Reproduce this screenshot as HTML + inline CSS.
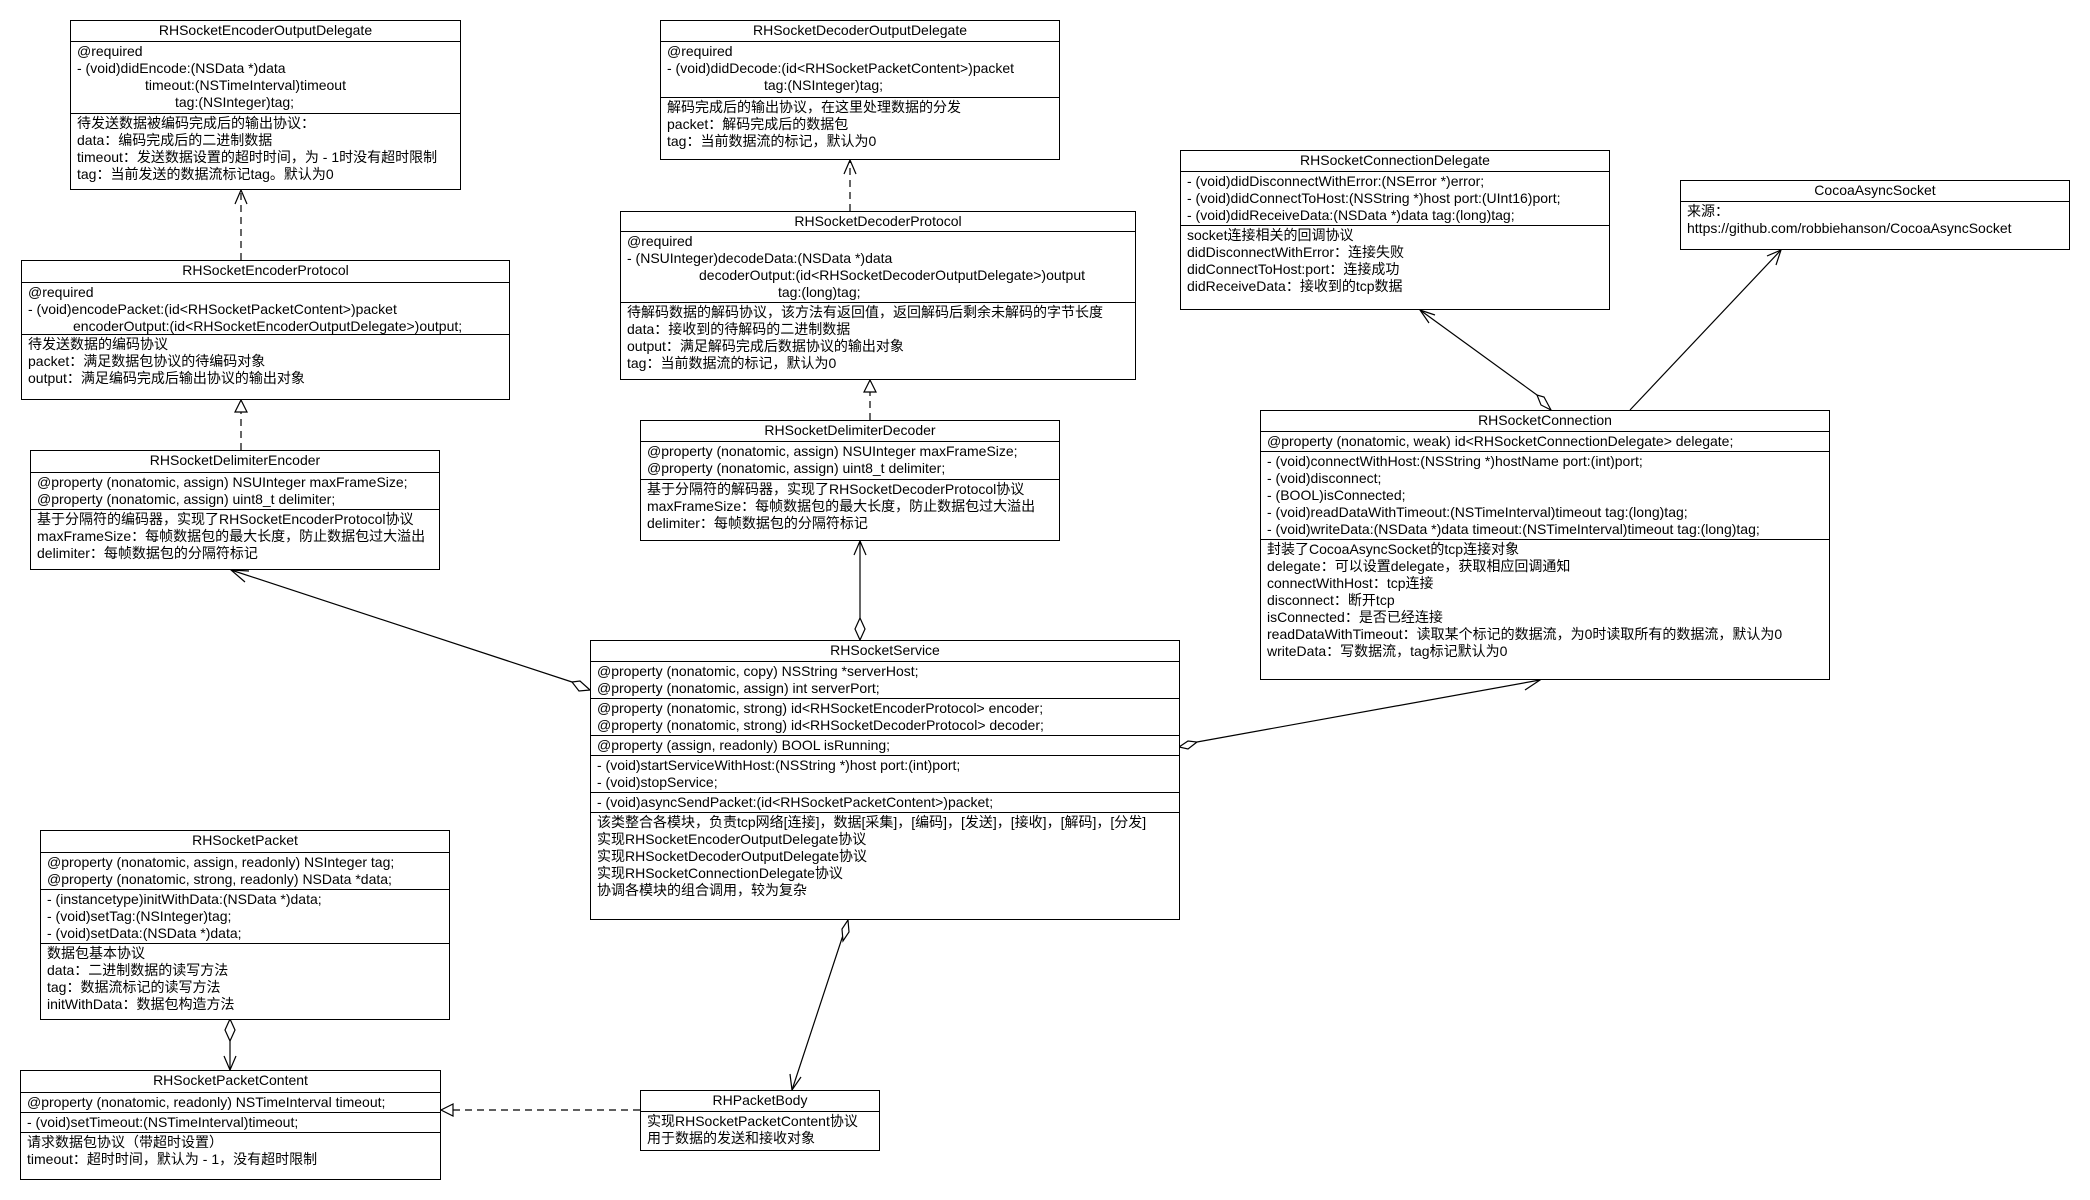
<!DOCTYPE html>
<html><head><meta charset="utf-8"><style>
body{margin:0;width:2090px;height:1200px;background:#fff;position:relative;overflow:hidden;font-family:"Liberation Sans","Noto Sans CJK SC",sans-serif;font-size:14px;color:#000}
.b{position:absolute;border:1.3px solid #000;box-sizing:border-box;background:#fff}
.t{text-align:center;line-height:19px;box-sizing:border-box}
.s{border-top:1.3px solid #000;box-sizing:border-box;padding:1px 0 0 6px;line-height:17px;white-space:pre;overflow:hidden}
.i{display:block}
svg{position:absolute;left:0;top:0}
</style></head><body>
<svg width="2090" height="1200" viewBox="0 0 2090 1200" fill="none" stroke="#000" stroke-width="1.2">
<!-- dashed dependencies -->
<line x1="241" y1="260" x2="241" y2="191" stroke-dasharray="7,5"/><polyline points="235,204 241,190 247,204"/>
<line x1="850" y1="211" x2="850" y2="161" stroke-dasharray="7,5"/><polyline points="844,174 850,160 856,174"/>
<!-- realizations -->
<line x1="241" y1="450" x2="241" y2="412" stroke-dasharray="7,5"/><polygon points="235,412 241,400 247,412" fill="#fff"/>
<line x1="870" y1="420" x2="870" y2="392" stroke-dasharray="7,5"/><polygon points="864,392 870,380 876,392" fill="#fff"/>
<line x1="640" y1="1110" x2="453" y2="1110" stroke-dasharray="7,5"/><polygon points="453,1104 441,1110 453,1116" fill="#fff"/>
<!-- aggregations -->
<line x1="572" y1="682" x2="231" y2="570"/><polyline points="245,582 231,570 249,571"/>
<polygon points="590,690 580,681 572,682 579,691" fill="#fff"/>
<line x1="860" y1="618" x2="860" y2="541"/><polyline points="854,555 860,541 866,555"/>
<polygon points="860,640 855,629 860,618 865,629" fill="#fff"/>
<line x1="1197" y1="742" x2="1540" y2="680"/><polyline points="1525,690 1540,680 1523,678"/>
<polygon points="1179,747 1188,741 1197,742 1188,749" fill="#fff"/>
<line x1="848" y1="920" x2="792" y2="1090"/><polyline points="790,1074 792,1090 801,1077"/>
<polygon points="848,920 849,932 843,941 842,929" fill="#fff"/>
<line x1="230" y1="1041" x2="230" y2="1070"/><polyline points="224,1056 230,1070 236,1056"/>
<polygon points="230,1019 235,1030 230,1041 225,1030" fill="#fff"/>
<line x1="1537" y1="395" x2="1420" y2="310"/><polyline points="1429,323 1420,310 1435,315"/>
<polygon points="1551,410 1544,397 1537,395 1541,405" fill="#fff"/>
<line x1="1630" y1="410" x2="1781" y2="250"/><polyline points="1767,256 1781,250 1776,265"/>
</svg>

<div class="b" style="left:70px;top:20px;width:391px;height:170px">
<div class="t" style="height:20px">RHSocketEncoderOutputDelegate</div>
<div class="s" style="height:72px">@required
- (void)didEncode:(NSData *)data
<span style="padding-left:68px">timeout:(NSTimeInterval)timeout</span>
<span style="padding-left:98px">tag:(NSInteger)tag;</span></div>
<div class="s" style="height:76px">待发送数据被编码完成后的输出协议：
data：编码完成后的二进制数据
timeout：发送数据设置的超时时间，为 - 1时没有超时限制
tag：当前发送的数据流标记tag。默认为0</div>
</div>

<div class="b" style="left:660px;top:20px;width:400px;height:140px">
<div class="t" style="height:20px">RHSocketDecoderOutputDelegate</div>
<div class="s" style="height:56px">@required
- (void)didDecode:(id&lt;RHSocketPacketContent&gt;)packet
<span style="padding-left:97px">tag:(NSInteger)tag;</span></div>
<div class="s" style="height:62px">解码完成后的输出协议，在这里处理数据的分发
packet：解码完成后的数据包
tag：当前数据流的标记，默认为0</div>
</div>

<div class="b" style="left:620px;top:211px;width:516px;height:169px">
<div class="t" style="height:19px">RHSocketDecoderProtocol</div>
<div class="s" style="height:71px">@required
- (NSUInteger)decodeData:(NSData *)data
<span style="padding-left:72px">decoderOutput:(id&lt;RHSocketDecoderOutputDelegate&gt;)output</span>
<span style="padding-left:151px">tag:(long)tag;</span></div>
<div class="s" style="height:77px">待解码数据的解码协议，该方法有返回值，返回解码后剩余未解码的字节长度
data：接收到的待解码的二进制数据
output：满足解码完成后数据协议的输出对象
tag：当前数据流的标记，默认为0</div>
</div>

<div class="b" style="left:21px;top:260px;width:489px;height:140px">
<div class="t" style="height:21px">RHSocketEncoderProtocol</div>
<div class="s" style="height:52px">@required
- (void)encodePacket:(id&lt;RHSocketPacketContent&gt;)packet
<span style="padding-left:45px">encoderOutput:(id&lt;RHSocketEncoderOutputDelegate&gt;)output;</span></div>
<div class="s" style="height:65px">待发送数据的编码协议
packet：满足数据包协议的待编码对象
output：满足编码完成后输出协议的输出对象</div>
</div>

<div class="b" style="left:30px;top:450px;width:410px;height:120px">
<div class="t" style="height:21px">RHSocketDelimiterEncoder</div>
<div class="s" style="height:37px">@property (nonatomic, assign) NSUInteger maxFrameSize;
@property (nonatomic, assign) uint8_t delimiter;</div>
<div class="s" style="height:60px">基于分隔符的编码器，实现了RHSocketEncoderProtocol协议
maxFrameSize：每帧数据包的最大长度，防止数据包过大溢出
delimiter：每帧数据包的分隔符标记</div>
</div>

<div class="b" style="left:640px;top:420px;width:420px;height:121px">
<div class="t" style="height:20px">RHSocketDelimiterDecoder</div>
<div class="s" style="height:38px">@property (nonatomic, assign) NSUInteger maxFrameSize;
@property (nonatomic, assign) uint8_t delimiter;</div>
<div class="s" style="height:61px">基于分隔符的解码器，实现了RHSocketDecoderProtocol协议
maxFrameSize：每帧数据包的最大长度，防止数据包过大溢出
delimiter：每帧数据包的分隔符标记</div>
</div>

<div class="b" style="left:1180px;top:150px;width:430px;height:160px">
<div class="t" style="height:20px">RHSocketConnectionDelegate</div>
<div class="s" style="height:54px">- (void)didDisconnectWithError:(NSError *)error;
- (void)didConnectToHost:(NSString *)host port:(UInt16)port;
- (void)didReceiveData:(NSData *)data tag:(long)tag;</div>
<div class="s" style="height:84px">socket连接相关的回调协议
didDisconnectWithError：连接失败
didConnectToHost:port：连接成功
didReceiveData：接收到的tcp数据</div>
</div>

<div class="b" style="left:1680px;top:180px;width:390px;height:70px">
<div class="t" style="height:20px">CocoaAsyncSocket</div>
<div class="s" style="height:48px">来源：
https://github.com/robbiehanson/CocoaAsyncSocket</div>
</div>

<div class="b" style="left:1260px;top:410px;width:570px;height:270px">
<div class="t" style="height:20px">RHSocketConnection</div>
<div class="s" style="height:20px">@property (nonatomic, weak) id&lt;RHSocketConnectionDelegate&gt; delegate;</div>
<div class="s" style="height:88px">- (void)connectWithHost:(NSString *)hostName port:(int)port;
- (void)disconnect;
- (BOOL)isConnected;
- (void)readDataWithTimeout:(NSTimeInterval)timeout tag:(long)tag;
- (void)writeData:(NSData *)data timeout:(NSTimeInterval)timeout tag:(long)tag;</div>
<div class="s" style="height:139px">封装了CocoaAsyncSocket的tcp连接对象
delegate：可以设置delegate，获取相应回调通知
connectWithHost：tcp连接
disconnect：断开tcp
isConnected：是否已经连接
readDataWithTimeout：读取某个标记的数据流，为0时读取所有的数据流，默认为0
writeData：写数据流，tag标记默认为0</div>
</div>

<div class="b" style="left:590px;top:640px;width:590px;height:280px">
<div class="t" style="height:20px">RHSocketService</div>
<div class="s" style="height:37px">@property (nonatomic, copy) NSString *serverHost;
@property (nonatomic, assign) int serverPort;</div>
<div class="s" style="height:37px">@property (nonatomic, strong) id&lt;RHSocketEncoderProtocol&gt; encoder;
@property (nonatomic, strong) id&lt;RHSocketDecoderProtocol&gt; decoder;</div>
<div class="s" style="height:20px">@property (assign, readonly) BOOL isRunning;</div>
<div class="s" style="height:37px">- (void)startServiceWithHost:(NSString *)host port:(int)port;
- (void)stopService;</div>
<div class="s" style="height:20px">- (void)asyncSendPacket:(id&lt;RHSocketPacketContent&gt;)packet;</div>
<div class="s" style="height:106px">该类整合各模块，负责tcp网络[连接]，数据[采集]，[编码]，[发送]，[接收]，[解码]，[分发]
实现RHSocketEncoderOutputDelegate协议
实现RHSocketDecoderOutputDelegate协议
实现RHSocketConnectionDelegate协议
协调各模块的组合调用，较为复杂</div>
</div>

<div class="b" style="left:40px;top:830px;width:410px;height:190px">
<div class="t" style="height:21px">RHSocketPacket</div>
<div class="s" style="height:37px">@property (nonatomic, assign, readonly) NSInteger tag;
@property (nonatomic, strong, readonly) NSData *data;</div>
<div class="s" style="height:54px">- (instancetype)initWithData:(NSData *)data;
- (void)setTag:(NSInteger)tag;
- (void)setData:(NSData *)data;</div>
<div class="s" style="height:75px">数据包基本协议
data：二进制数据的读写方法
tag：数据流标记的读写方法
initWithData：数据包构造方法</div>
</div>

<div class="b" style="left:20px;top:1070px;width:421px;height:110px">
<div class="t" style="height:21px">RHSocketPacketContent</div>
<div class="s" style="height:20px">@property (nonatomic, readonly) NSTimeInterval timeout;</div>
<div class="s" style="height:20px">- (void)setTimeout:(NSTimeInterval)timeout;</div>
<div class="s" style="height:46px">请求数据包协议（带超时设置）
timeout：超时时间，默认为 - 1，没有超时限制</div>
</div>

<div class="b" style="left:640px;top:1090px;width:240px;height:61px">
<div class="t" style="height:20px">RHPacketBody</div>
<div class="s" style="height:38px">实现RHSocketPacketContent协议
用于数据的发送和接收对象</div>
</div>
</body></html>
